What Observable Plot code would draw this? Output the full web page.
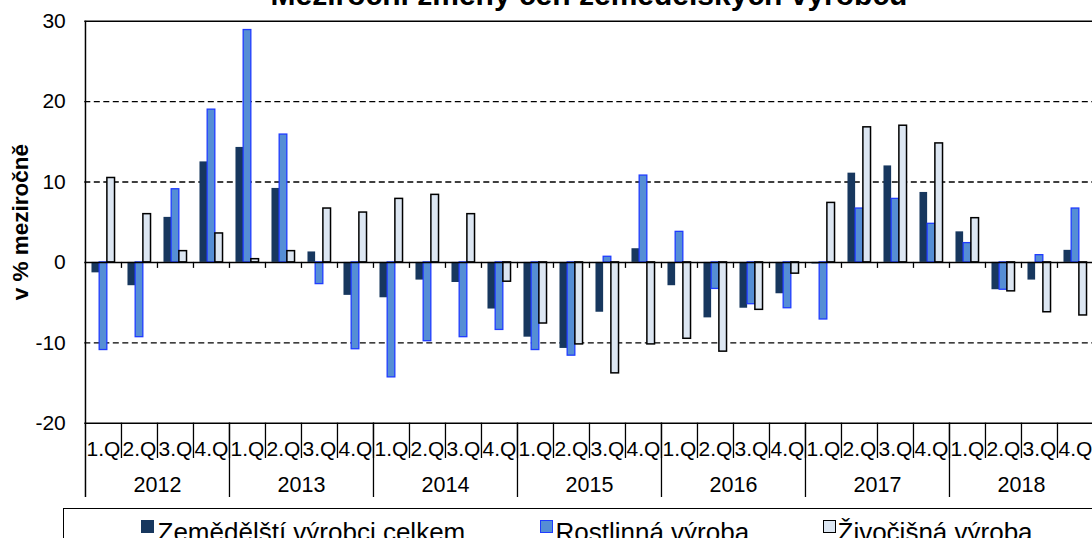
<!DOCTYPE html>
<html>
<head>
<meta charset="utf-8">
<script src="https://cdn.jsdelivr.net/npm/d3@7"></script>
<script src="https://cdn.jsdelivr.net/npm/@observablehq/plot@0.6"></script>
<style>
  html, body { margin: 0; padding: 0; background: #fff; overflow: hidden; }
  #wrap { position: relative; width: 1092px; height: 538px; overflow: hidden; font-family: "Liberation Sans", Arial, sans-serif; }
  #chart { position: absolute; left: 0; top: 0; }
  #title { position: absolute; left: 0; width: 1178px; top: -19.7px; text-align: center; font-weight: bold; font-size: 30px; line-height: 30px; white-space: nowrap; color: #000; }
  #legend { position: absolute; left: 63px; top: 507.5px; width: 1100px; height: 60px; border: 1.5px solid #000; box-sizing: border-box; }
  .sw { position: absolute; width: 13px; height: 13px; box-sizing: border-box; }
  .lt { position: absolute; font-size: 26px; line-height: 26px; white-space: nowrap; color: #000; }
</style>
</head>
<body>
<div id="wrap">
  <div id="chart"></div>
  <div id="title"></div>
  <div id="legend"></div>
</div>
<script>
// ---- data ----
const years = ["2012", "2013", "2014", "2015", "2016", "2017", "2018"];
const quarters = ["1.Q", "2.Q", "3.Q", "4.Q"];
const seriesNames = ["Zemědělští výrobci celkem", "Rostlinná výroba", "Živočišná výroba"];
const celkem = [-1.3, -2.9, 5.6, 12.5, 14.3, 9.2, 1.3, -4.1, -4.4, -2.2, -2.5, -5.8, -9.3, -10.7, -6.2, 1.7, -2.9, -6.9, -5.7, -3.9, -0.2, 11.1, 12.0, 8.7, 3.8, -3.4, -2.2, 1.5];
const rostlinna = [-10.9, -9.3, 9.1, 19.0, 28.9, 15.9, -2.7, -10.8, -14.3, -9.8, -9.3, -8.4, -10.9, -11.6, 0.7, 10.8, 3.8, -3.3, -5.2, -5.7, -7.1, 6.7, 7.9, 4.8, 2.4, -3.4, 0.9, 6.7];
const zivocisna = [10.5, 6.0, 1.4, 3.6, 0.4, 1.4, 6.7, 6.2, 7.9, 8.4, 6.0, -2.4, -7.6, -10.2, -13.8, -10.2, -9.5, -11.1, -5.9, -1.4, 7.4, 16.8, 17.0, 14.8, 5.5, -3.6, -6.2, -6.6];
const yTicks = [-20, -10, 0, 10, 20, 30];
const gridValues = [20, 10, -10];
const titleText = "Meziroční změny cen zemědělských výrobců";
const yLabel = "v % meziročně";

// ---- build tables ----
const rows = years.flatMap(y => quarters.map(q => ({key: y + " " + q, year: y, q})));
const keys = rows.map(r => r.key);
const mk = vals => rows.map((r, i) => ({key: r.key, value: vals[i]}));
const dCelkem = mk(celkem), dRost = mk(rostlinna), dZiv = mk(zivocisna);
const yearFirst = years.map(y => y + " 1.Q");
const yearMid = years.map(y => ({key: y + " 2.Q", year: y}));

// ---- layout ----
const x0 = 84.3, x1 = 1093.7;
const bw = (x1 - x0) / keys.length;
const wb = 7.7;
const g0 = (bw - 3 * wb) / 2;
const frameTop = 20.7, frameBottom = 422.7, H = 508;

const colors = {dark: "#17375E", blue: "#558ED5", blueStroke: "#1F3CFF", light: "#DCE6F2"};

const chart = Plot.plot({
  width: 1092,
  height: H,
  marginTop: frameTop,
  marginBottom: H - frameBottom,
  marginLeft: x0,
  marginRight: 0,
  style: {fontFamily: "Liberation Sans, Arial, sans-serif", fontSize: "21px", background: "white", color: "#000", maxWidth: "none"},
  x: {type: "band", domain: keys, range: [x0, x1], padding: 0, axis: null},
  y: {domain: [-20, 30], ticks: yTicks, tickSize: 0, tickPadding: 19, label: null, tickFormat: d => String(d)},
  marks: [
    Plot.ruleY(gridValues, {stroke: "#000", strokeWidth: 1.3, strokeDasharray: "6,3.5"}),
    Plot.barY(dCelkem, {x: "key", y: "value", fill: colors.dark, insetLeft: g0, insetRight: bw - g0 - wb}),
    Plot.barY(dRost, {x: "key", y: "value", fill: colors.blue, stroke: colors.blueStroke, strokeWidth: 1.3, insetLeft: g0 + wb, insetRight: bw - g0 - 2 * wb}),
    Plot.barY(dZiv, {x: "key", y: "value", fill: colors.light, stroke: "#000", strokeWidth: 1.5, insetLeft: g0 + 2 * wb, insetRight: g0}),
    Plot.ruleY([30, -20], {stroke: "#000", strokeWidth: 1.5}),
    Plot.ruleY([0], {stroke: "#000", strokeWidth: 1.5}),
    // ticks on zero line at category boundaries
    Plot.ruleX(keys.slice(1), {x: d => d, y1: 0, y2: 0, dx: -bw / 2, insetBottom: -6, stroke: "#000", strokeWidth: 1.3}),
    // left axis line
    Plot.ruleX([keys[0]], {x: d => d, dx: -bw / 2, insetBottom: -74.3, stroke: "#000", strokeWidth: 1.5}),
    // quarter separators below plot
    Plot.ruleX(keys.slice(1), {x: d => d, dx: -bw / 2, insetTop: frameBottom - frameTop, insetBottom: -35.3, stroke: "#000", strokeWidth: 1.3}),
    // year separators
    Plot.ruleX(yearFirst.slice(1), {x: d => d, dx: -bw / 2, insetTop: frameBottom - frameTop, insetBottom: -74.3, stroke: "#000", strokeWidth: 1.3}),
    // quarter labels
    Plot.text(rows, {x: "key", text: "q", frameAnchor: "bottom", dy: 26.3, fontSize: 21, lineAnchor: "middle", fill: "#000"}),
    // year labels
    Plot.text(yearMid, {x: "key", text: "year", frameAnchor: "bottom", dx: bw / 2, dy: 62, fontSize: 21.5, lineAnchor: "middle", fill: "#000"}),
    // y label
    Plot.text([yLabel], {text: d => d, frameAnchor: "left", textAnchor: "middle", lineAnchor: "middle", rotate: -90, dx: -64, fontWeight: "bold", fontSize: 22.5, fill: "#000"})
  ]
});
document.getElementById("chart").appendChild(chart);
document.getElementById("title").textContent = titleText;

// ---- legend ----
const legendItems = [
  {name: seriesNames[0], fill: colors.dark, stroke: "none", sx: 141.7, tx: 158},
  {name: seriesNames[1], fill: colors.blue, stroke: colors.blueStroke, sx: 540, tx: 556},
  {name: seriesNames[2], fill: colors.light, stroke: "#000", sx: 823.5, tx: 838}
];
const legend = document.getElementById("legend");
const lx = 63, ly = 507.5;
// 26px text with 26px line-height: baseline ~ top + 21.4
const textTop = 541 - 21.4;
legendItems.forEach(it => {
  const sw = document.createElement("div");
  sw.className = "sw";
  sw.style.left = (it.sx - lx - 1.5) + "px";
  sw.style.top = (520 - ly - 1.5) + "px";
  sw.style.background = it.fill;
  if (it.stroke !== "none") sw.style.border = "1.5px solid " + it.stroke;
  legend.appendChild(sw);
  const t = document.createElement("div");
  t.className = "lt";
  t.style.left = (it.tx - lx - 1.5) + "px";
  t.style.top = (textTop - ly - 1.5) + "px";
  t.textContent = it.name;
  legend.appendChild(t);
});
</script>
</body>
</html>
